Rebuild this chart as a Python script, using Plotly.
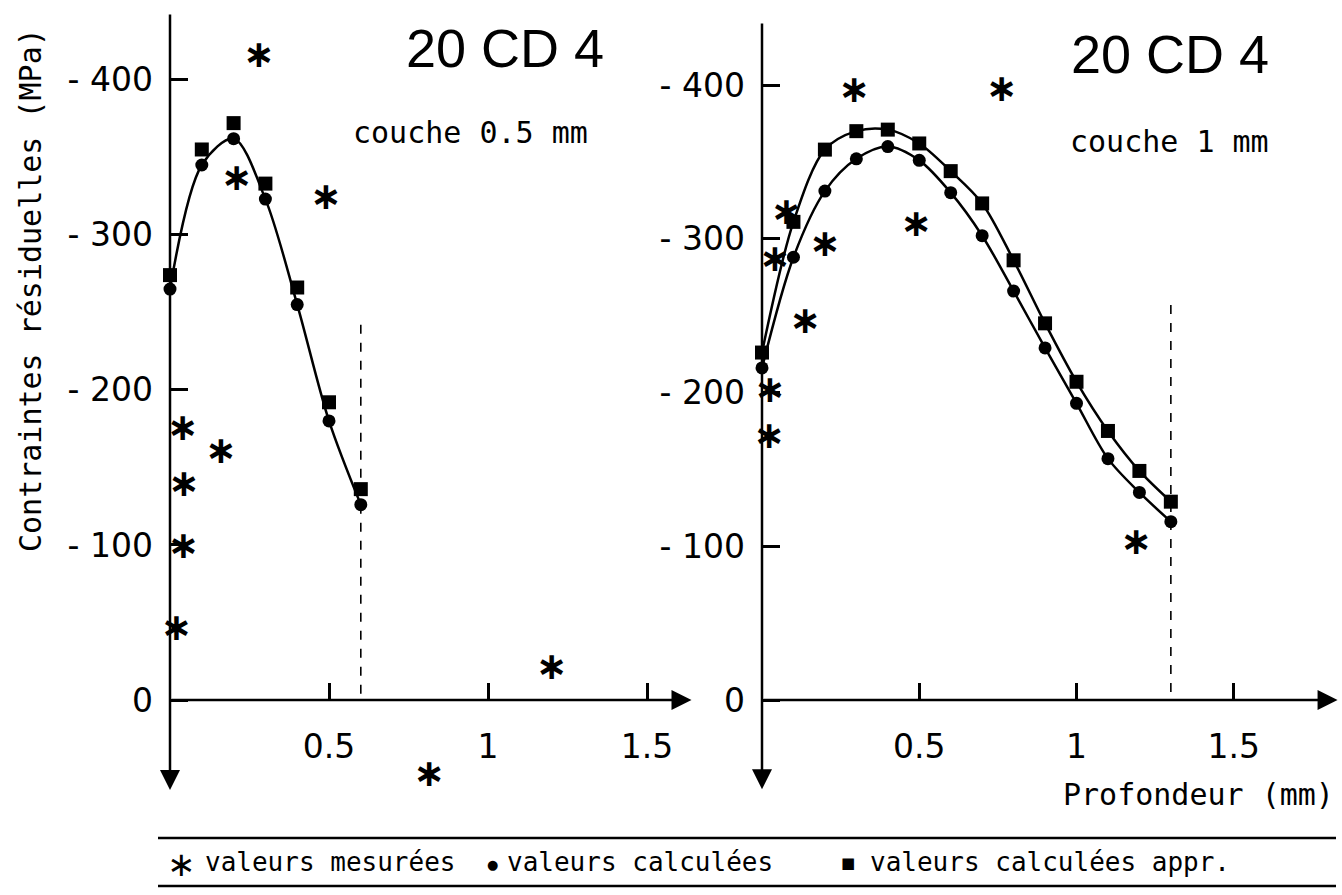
import plotly.graph_objects as go

W, H = 1342, 895

# ---------------- data ----------------
# Left panel : couche 0.5 mm
depth_L = [0, 0.1, 0.2, 0.3, 0.4, 0.5, 0.6]
calc_L = [-265, -345, -362, -323, -255, -180, -126]
appr_L = [-274, -355, -372, -333, -266, -192, -136]
meas_depth_L = [0.02, 0.04, 0.042, 0.044, 0.16, 0.21, 0.28, 0.49, 0.815, 1.20]
meas_L = [-45, -174, -98, -138, -159, -335, -414, -323, 49, -20]
layer_L = 0.6
layer_top_L = -242

# Right panel : couche 1 mm
depth_R = [0, 0.1, 0.2, 0.3, 0.4, 0.5, 0.6, 0.7, 0.8, 0.9, 1.0, 1.1, 1.2, 1.3]
calc_R = [-216, -288, -331, -352, -360, -351, -330, -302, -266, -229, -193, -157, -135, -116]
appr_R = [-226, -311, -358, -370, -371, -362, -344, -323, -286, -245, -207, -175, -149, -129]
meas_depth_R = [0.023, 0.025, 0.041, 0.078, 0.137, 0.2, 0.293, 0.49, 0.762, 1.19]
meas_R = [-170, -200, -285, -316, -245, -295, -395, -308, -396, -101]
layer_R = 1.3
layer_top_R = -257

x_ticks = [0.5, 1, 1.5]
x_ticktext = ["0.5", "1", "1.5"]
y_ticks = [-400, -300, -200, -100, 0]
y_ticktext = ["- 400", "- 300", "- 200", "- 100", "0"]

title_txt = "20 CD 4"
couche_L_txt = "couche 0.5 mm"
couche_R_txt = "couche 1 mm"
ytitle_txt = "Contraintes résiduelles (MPa)"
xtitle_txt = "Profondeur (mm)"
legend_txt = ["valeurs mesurées", "valeurs calculées", "valeurs calculées appr."]

# ---------------- figure ----------------
fig = go.Figure()
BLACK = "black"
LW = 2.5

def panel(xa, ya, depth, calc, appr, mdepth, meas, layer, layer_top, two_lines):
    fig.add_trace(go.Scatter(x=[layer, layer], y=[layer_top, 0], mode="lines",
                             line=dict(color=BLACK, width=1.6, dash="dash"),
                             xaxis=xa, yaxis=ya, showlegend=False, cliponaxis=False))
    fig.add_trace(go.Scatter(x=depth, y=calc, mode="lines",
                             line=dict(color=BLACK, width=LW, shape="spline", smoothing=0.9),
                             xaxis=xa, yaxis=ya, showlegend=False, cliponaxis=False))
    if two_lines:
        fig.add_trace(go.Scatter(x=depth, y=appr, mode="lines",
                                 line=dict(color=BLACK, width=LW, shape="spline", smoothing=0.9),
                                 xaxis=xa, yaxis=ya, showlegend=False, cliponaxis=False))
    fig.add_trace(go.Scatter(x=depth, y=appr, mode="markers",
                             marker=dict(symbol="square", size=14, color=BLACK),
                             xaxis=xa, yaxis=ya, showlegend=False, cliponaxis=False))
    fig.add_trace(go.Scatter(x=depth, y=calc, mode="markers",
                             marker=dict(symbol="circle", size=13, color=BLACK),
                             xaxis=xa, yaxis=ya, showlegend=False, cliponaxis=False))
    fig.add_trace(go.Scatter(x=mdepth, y=meas, mode="text", text=["∗"] * len(meas),
                             textposition="middle center",
                             textfont=dict(family="DejaVu Sans", size=38, color=BLACK, weight="bold"),
                             xaxis=xa, yaxis=ya, showlegend=False, cliponaxis=False))

panel("x", "y", depth_L, calc_L, appr_L, meas_depth_L, meas_L, layer_L, layer_top_L, False)
panel("x2", "y2", depth_R, calc_R, appr_R, meas_depth_R, meas_R, layer_R, layer_top_R, True)

# axes geometry (pixels)
L_x0, L_pu, L_xmax = 170, 318, 1.64
R_x0, R_pu, R_xmax = 762, 314.5, 1.83
Y0 = 700
Y_BOT = 58
L_top, L_ymin, L_ppm = 13, -443, 1.552
R_top, R_ymin, R_ppm = 22, -441, 1.5375

tickfont = dict(family="DejaVu Sans", size=33, color=BLACK)
common_x = dict(showgrid=False, zeroline=False, showline=False, ticks="inside", ticklen=17,
                tickwidth=LW, tickcolor=BLACK, tickvals=x_ticks, ticktext=x_ticktext,
                tickfont=tickfont, ticklabelstandoff=24, anchor="free",
                position=(H - Y0) / H)
common_y = dict(showgrid=False, zeroline=False, showline=False, ticks="inside", ticklen=18,
                tickwidth=LW, tickcolor=BLACK, tickvals=y_ticks, ticktext=y_ticktext,
                tickfont=tickfont, ticklabelstandoff=16)

fig.update_layout(
    xaxis=dict(domain=[L_x0 / W, (L_x0 + L_xmax * L_pu) / W], range=[0, L_xmax], **common_x),
    yaxis=dict(domain=[(H - (Y0 + Y_BOT * L_ppm)) / H, (H - L_top) / H], range=[Y_BOT, L_ymin],
               anchor="x", **common_y),
    xaxis2=dict(domain=[R_x0 / W, (R_x0 + R_xmax * R_pu) / W], range=[0, R_xmax], **common_x),
    yaxis2=dict(domain=[(H - (Y0 + Y_BOT * R_ppm)) / H, (H - R_top) / H], range=[Y_BOT, R_ymin],
                anchor="x2", **common_y),
)

ann = []
for xr, yr, xmax, ymin in [("x", "y", L_xmax, L_ymin), ("x2", "y2", R_xmax, R_ymin)]:
    ann.append(dict(x=0, y=Y_BOT, ax=0, ay=ymin, xref=xr, yref=yr, axref=xr, ayref=yr,
                    showarrow=True, arrowhead=2, arrowsize=1.6, arrowwidth=LW,
                    arrowcolor=BLACK, text=""))
    ann.append(dict(x=xmax, y=0, ax=0, ay=0, xref=xr, yref=yr, axref=xr, ayref=yr,
                    showarrow=True, arrowhead=2, arrowsize=1.6, arrowwidth=LW,
                    arrowcolor=BLACK, text=""))

def ptext(text, px, py, size, family="DejaVu Sans Mono", xanchor="center", angle=0):
    ann.append(dict(text=text, x=px / W, y=1 - py / H, xref="paper", yref="paper",
                    xanchor=xanchor, yanchor="middle", showarrow=False, textangle=angle,
                    font=dict(family=family, size=size, color=BLACK)))

ptext(title_txt, 505, 48, 54, family="Liberation Sans")
ptext(title_txt, 1170, 54, 54, family="Liberation Sans")
ptext(couche_L_txt, 351, 132, 30, xanchor="left")
ptext(couche_R_txt, 1068, 141, 30, xanchor="left")
ptext(ytitle_txt, 30, 290, 30, angle=-90)
ptext(xtitle_txt, 1336, 794, 30, xanchor="right")

# legend
ptext("∗", 181, 864, 34, family="DejaVu Sans")
ptext(legend_txt[0], 203, 862, 26, xanchor="left")
ptext("●", 492, 864, 13, family="DejaVu Sans")
ptext(legend_txt[1], 505, 862, 26, xanchor="left")
ptext("■", 848, 863, 15, family="DejaVu Sans")
ptext(legend_txt[2], 868, 862, 26, xanchor="left")

shapes = [
    dict(type="line", xref="paper", yref="paper", x0=158 / W, x1=1336 / W,
         y0=1 - 838 / H, y1=1 - 838 / H, line=dict(color=BLACK, width=LW)),
    dict(type="line", xref="paper", yref="paper", x0=158 / W, x1=1336 / W,
         y0=1 - 886 / H, y1=1 - 886 / H, line=dict(color=BLACK, width=LW)),
]

fig.update_layout(annotations=ann, shapes=shapes, width=W, height=H, autosize=False,
                  margin=dict(l=0, r=0, t=0, b=0), paper_bgcolor="white", plot_bgcolor="white",
                  showlegend=False)

fig.write_html("out.html")
